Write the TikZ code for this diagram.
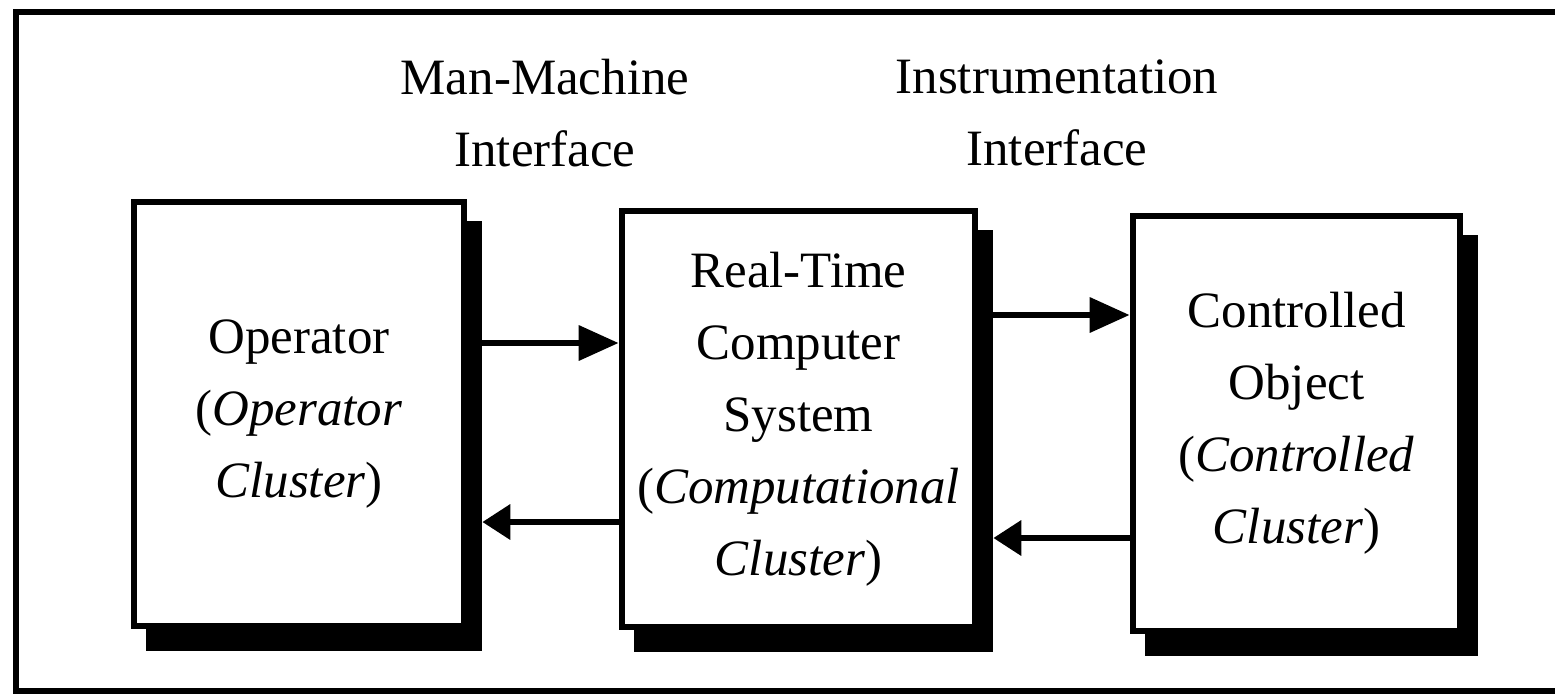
\documentclass[tikz,border=0pt]{standalone}
\usepackage{fontspec}
\setmainfont{Liberation Serif}
\usetikzlibrary{fit,backgrounds,calc,arrows.meta}

\begin{document}
\begin{tikzpicture}[x=0.02cm,y=-0.02cm,
  every node/.style={font=\fontsize{29}{41}\selectfont},
  frame/.style={draw,line width=3.4pt},
  cluster/.style={draw,fill=white,line width=3.8pt,align=center,inner sep=0pt},
  shade/.style={fill=black,inner sep=0pt,outer sep=0pt},
  lbl/.style={align=center},
  fwd/.style={line width=3.8pt,-{Triangle[length=0.8cm,width=0.68cm]}},
  back/.style={line width=3.8pt,-{Triangle[length=0.56cm,width=0.68cm]}}]
  \useasboundingbox (0,0) rectangle (1555,694);
  \draw[frame] (16,12) rectangle (1620,691);
  \node[lbl] (mmi) at (545,113) {Man-Machine\\Interface};
  \node[lbl] (ii)  at (1057,113) {Instrumentation\\Interface};

  \node[cluster,minimum width=6.6cm,minimum height=8.48cm]  (op) at (299,414)
    {Operator\\(\textit{Operator}\\\textit{Cluster})};
  \node[cluster,minimum width=7.06cm,minimum height=8.32cm] (rt) at (798.5,419)
    {Real-Time\\Computer\\System\\(\textit{Computational}\\\textit{Cluster})};
  \node[cluster,minimum width=6.54cm,minimum height=8.3cm]  (co) at (1296.5,423.5)
    {Controlled\\Object\\(\textit{Controlled}\\\textit{Cluster})};
  \begin{scope}[on background layer]
    \node[shade,fit=(op),shift={(15,22)}] (opsh) {};
    \node[shade,fit=(rt),shift={(15,22)}] (rtsh) {};
    \node[shade,fit=(co),shift={(15,22)}] (cosh) {};
  \end{scope}

  \draw[fwd]  (opsh.east |- 0,343) -- (rt.west |- 0,343);
  \draw[back] (rt.west |- 0,522) -- (opsh.east |- 0,522);
  \draw[fwd]  (rtsh.east |- 0,315) -- (co.west |- 0,315);
  \draw[back] (co.west |- 0,538) -- (rtsh.east |- 0,538);
\end{tikzpicture}
\end{document}
